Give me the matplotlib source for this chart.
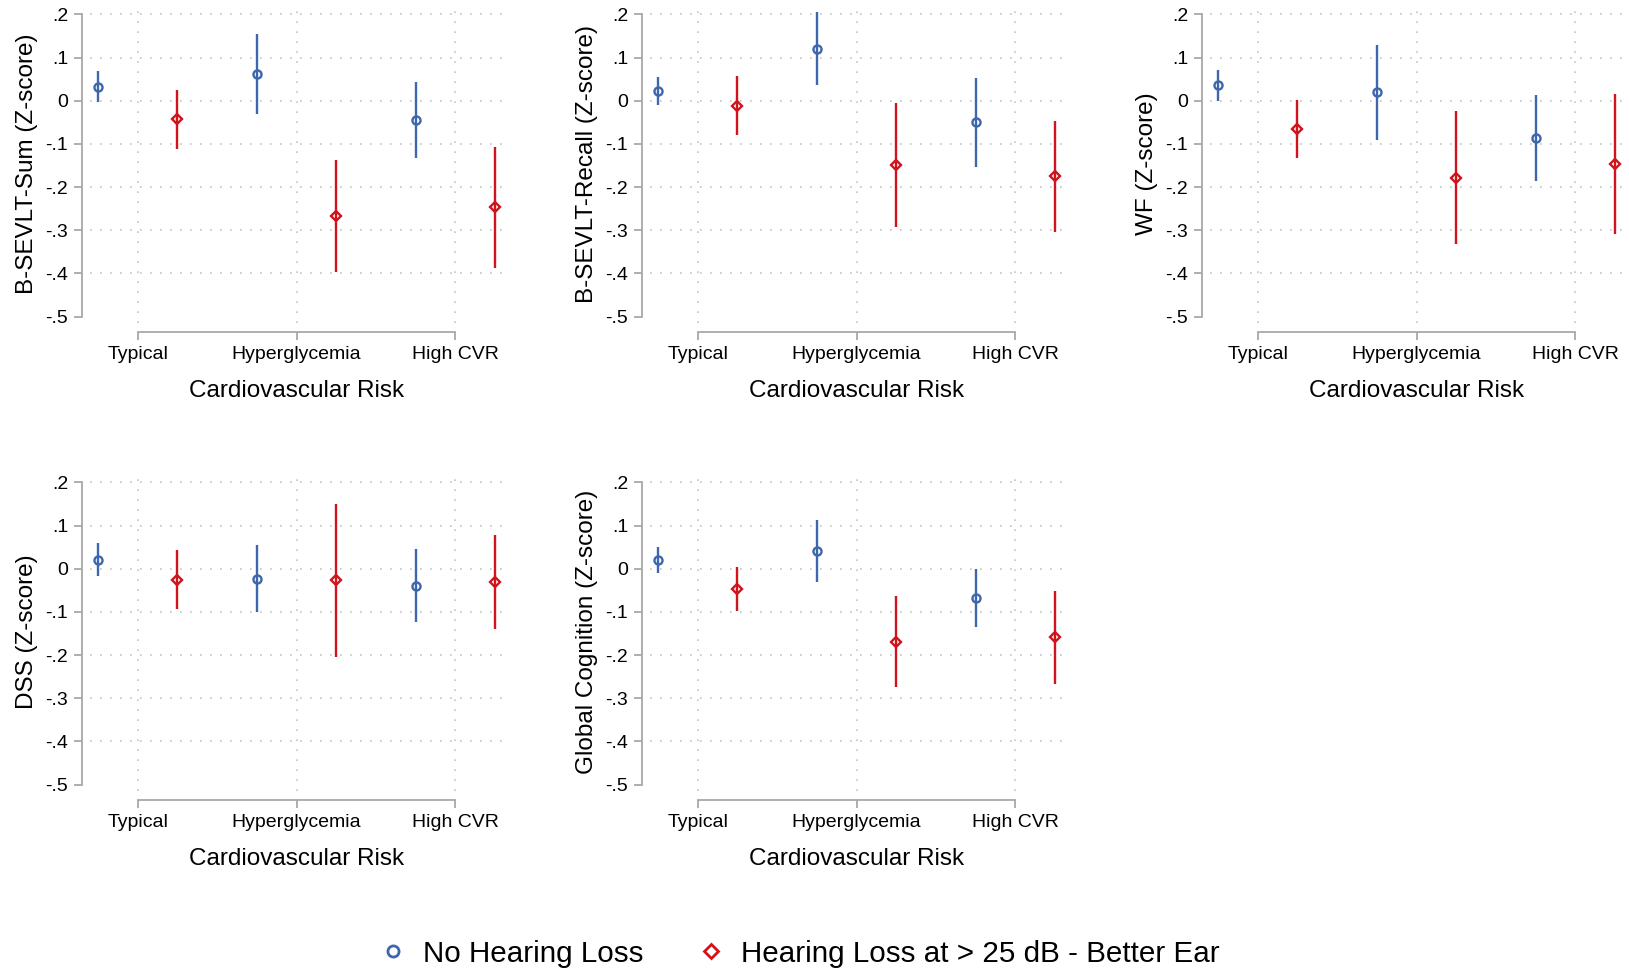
import numpy as np
import matplotlib.pyplot as plt
from matplotlib.lines import Line2D

plt.rcParams['font.family'] = ['Liberation Sans', 'DejaVu Sans']

categories = ['Typical', 'Hyperglycemia', 'High CVR']
titles = ['B-SEVLT-Sum (Z-score)', 'B-SEVLT-Recall (Z-score)', 'WF (Z-score)',
          'DSS (Z-score)', 'Global Cognition (Z-score)']
ytick_vals = [-0.5, -0.4, -0.3, -0.2, -0.1, 0.0, 0.1, 0.2]
ytick_labels = ['-.5', '-.4', '-.3', '-.2', '-.1', '0', '.1', '.2']

# point estimate, lower CI, upper CI for each category
# No Hearing Loss
nhl_est = [[0.032, 0.062, -0.045],
           [0.022, 0.121, -0.050],
           [0.036, 0.020, -0.086],
           [0.021, -0.024, -0.039],
           [0.021, 0.042, -0.067]]
nhl_lo = [[-0.003, -0.030, -0.132],
          [-0.009, 0.037, -0.153],
          [0.000, -0.090, -0.186],
          [-0.017, -0.100, -0.123],
          [-0.009, -0.030, -0.135]]
nhl_hi = [[0.069, 0.154, 0.043],
          [0.054, 0.205, 0.053],
          [0.072, 0.130, 0.013],
          [0.059, 0.054, 0.045],
          [0.050, 0.113, 0.000]]
# Hearing Loss at > 25 dB - Better Ear
hl_est = [[-0.043, -0.267, -0.247],
          [-0.011, -0.148, -0.174],
          [-0.066, -0.178, -0.147],
          [-0.025, -0.027, -0.030],
          [-0.047, -0.169, -0.159]]
hl_lo = [[-0.112, -0.396, -0.387],
         [-0.080, -0.293, -0.303],
         [-0.133, -0.331, -0.309],
         [-0.094, -0.205, -0.140],
         [-0.098, -0.273, -0.267]]
hl_hi = [[0.025, -0.138, -0.106],
         [0.058, -0.004, -0.046],
         [0.002, -0.024, 0.015],
         [0.044, 0.149, 0.079],
         [0.004, -0.064, -0.051]]

blue = '#3d67ad'
red = '#d1131b'
spine_col = '#a8a8a8'
grid_col = '#c4c4c4'

W, H = 1629, 974
fig = plt.figure(figsize=(W / 100, H / 100), dpi=100)

lefts = [90, 650, 1210]
tops = [5, 473]
pw, ph = 413, 318

x = np.arange(1, len(categories) + 1)
for i in range(5):
    r, c = divmod(i, 3)
    ax = fig.add_axes([lefts[c] / W, 1 - (tops[r] + ph) / H, pw / W, ph / H])

    # grid
    for yv in ytick_vals[1:]:
        ax.axhline(yv, color=grid_col, lw=1.2, ls=(0, (1, 5)), zorder=0)
    for xv in x:
        ax.axvline(xv, color=grid_col, lw=1.2, ls=(0, (1, 5)), zorder=0)

    e = np.array(nhl_est[i])
    ax.errorbar(x - 0.25, e, yerr=[e - np.array(nhl_lo[i]), np.array(nhl_hi[i]) - e],
                fmt='o', color=blue, ms=5.8, mfc='none', mec=blue, mew=1.7,
                elinewidth=1.7, capsize=0, zorder=3)
    e = np.array(hl_est[i])
    ax.errorbar(x + 0.25, e, yerr=[e - np.array(hl_lo[i]), np.array(hl_hi[i]) - e],
                fmt='D', color=red, ms=5.2, mfc='none', mec=red, mew=1.7,
                elinewidth=1.7, capsize=0, zorder=3)

    ax.set_xlim(0.70, 3.30)
    ax.set_ylim(-0.515, 0.222)
    ax.set_xticks(x)
    ax.set_xticklabels(categories)
    ax.set_yticks(ytick_vals)
    ax.set_yticklabels(ytick_labels)

    for s in ['top', 'right']:
        ax.spines[s].set_visible(False)
    ax.spines['left'].set_position(('outward', 5.8))
    ax.spines['bottom'].set_position(('outward', 6.5))
    ax.spines['left'].set_bounds(-0.5, 0.2)
    ax.spines['bottom'].set_bounds(1, 3)
    for s in ['left', 'bottom']:
        ax.spines[s].set_color(spine_col)
        ax.spines[s].set_linewidth(1.3)
    ax.tick_params(axis='both', direction='out', length=5.8, width=1.3,
                   color=spine_col, labelcolor='black', labelsize=14, pad=4)

    ax.set_xlabel('Cardiovascular Risk', fontsize=17.5)
    ax.set_ylabel(titles[i], fontsize=17.5)
    ax.xaxis.set_label_coords(0.5, -0.18)
    ax.yaxis.set_label_coords(-0.125, 0.5)

handles = [Line2D([], [], ls='none', marker='o', ms=8, mfc='none', mec=blue, mew=2),
           Line2D([], [], ls='none', marker='D', ms=7, mfc='none', mec=red, mew=2)]
fig.legend(handles, ['No Hearing Loss', 'Hearing Loss at > 25 dB - Better Ear'],
           loc='center', bbox_to_anchor=(0.4905, 0.021), ncol=2, frameon=False,
           fontsize=21.3, handlelength=1.0, handletextpad=0.5, columnspacing=1.8)

fig.savefig('out.png', dpi=100)
